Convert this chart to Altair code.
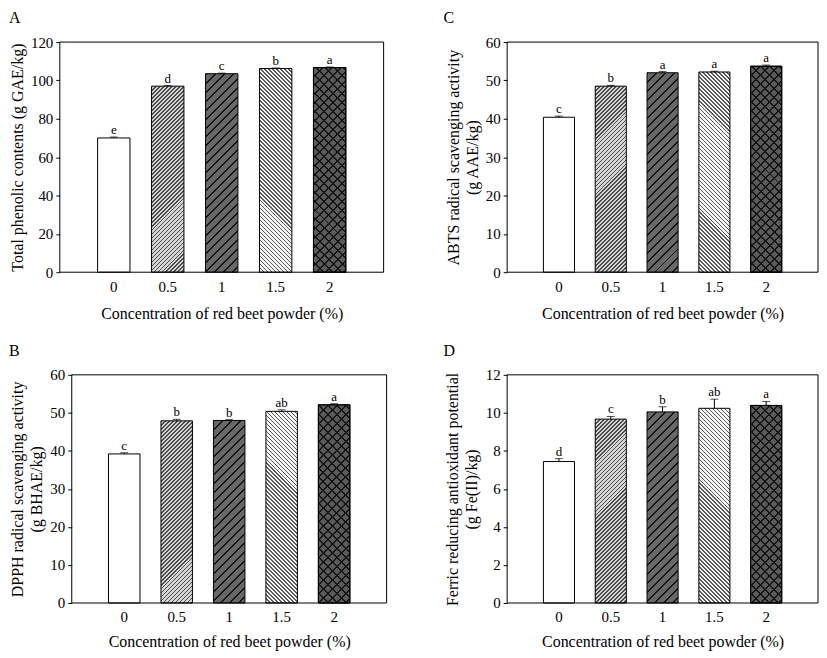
import altair as alt
import pandas as pd

conc = ["0", "0.5", "1", "1.5", "2"]

tpc = [70.0, 97.0, 103.5, 106.2, 106.7]
tpc_err = [0.5, 0.3, 0.3, 0.3, 0.3]
tpc_sig = ["e", "d", "c", "b", "a"]

dpph = [39.2, 47.9, 48.0, 50.4, 52.1]
dpph_err = [0.3, 0.4, 0.2, 0.4, 0.3]
dpph_sig = ["c", "b", "b", "ab", "a"]

abts = [40.4, 48.5, 52.0, 52.2, 53.7]
abts_err = [0.3, 0.2, 0.3, 0.2, 0.3]
abts_sig = ["c", "b", "a", "a", "a"]

frap = [7.44, 9.67, 10.05, 10.24, 10.39]
frap_err = [0.15, 0.14, 0.27, 0.48, 0.21]
frap_sig = ["d", "c", "b", "ab", "a"]

FONT = "Liberation Serif"
X_TITLE = "Concentration of red beet powder (%)"


def hatch(w, h, spacing, direction, line, bg, frac):
    n = int((w + h) / spacing) + 1
    L = n * spacing
    a = w * L / (w * w + h * h)
    b = h * L / (w * w + h * h)
    stops = []
    for k in range(n):
        t0 = round(k / n, 6)
        t1 = round((k + frac) / n, 6)
        t2 = round((k + 1) / n, 6)
        stops += [{"offset": t0, "color": line}, {"offset": t1, "color": line},
                  {"offset": t1, "color": bg}, {"offset": t2, "color": bg}]
    if direction == "/":
        x1, y1, x2, y2 = 0, 0, a, b
    else:
        x1, y1, x2, y2 = 0, 1, a, 1 - b
    return {"gradient": "linear", "x1": x1, "y1": y1, "x2": x2, "y2": y2, "stops": stops}


def panel(vals, errs, sigs, ymax, ystep, ytitle, letter, letter_dx, W, H, title_pad,
          shift=0, xtitle_pad=11):
    df = pd.DataFrame({"conc": conc, "val": vals, "err": errs, "sig": sigs})
    df["top"] = df["val"] + df["err"]
    VW = W + shift
    xs = alt.Scale(domain=conc, paddingInner=0.4, paddingOuter=0.7, range=[shift, VW])
    xaxis = alt.Axis(title=X_TITLE, labelAngle=0, ticks=False, tickSize=0, domain=False,
                     labelPadding=7, titlePadding=xtitle_pad)
    ys = alt.Scale(domain=[0, ymax], nice=False, zero=True)
    yaxis = alt.Axis(title=ytitle, values=list(range(0, ymax + 1, ystep)), grid=False,
                     domain=False, tickSize=4, tickColor="black", labelPadding=3,
                     titlePadding=title_pad, titleLineHeight=19, offset=-shift)

    def X():
        return alt.X("conc:N", scale=xs, axis=xaxis)

    def Y(f):
        return alt.Y(f + ":Q", scale=ys, axis=yaxis)

    bw = W / 6 * 0.6
    layers = []
    for i, c in enumerate(conc):
        h = vals[i] / ymax * H
        base = alt.Chart(df).transform_filter(alt.datum.conc == c)
        if i == 0:
            fills = ["white"]
        elif i == 1:
            fills = [hatch(bw, h, 4, "/", "#4a4a4a", "#d6d6d6", 0.45)]
        elif i == 2:
            fills = [hatch(bw, h, 9, "/", "#111111", "#686868", 0.22)]
        elif i == 3:
            fills = [hatch(bw, h, 4, "\\", "#5a5a5a", "#f6f6f6", 0.4)]
        else:
            fills = [hatch(bw, h, 9, "/", "#151515", "#5a5a5a", 0.22),
                     hatch(bw, h, 9, "\\", "#151515", "rgba(0,0,0,0)", 0.22)]
        for f in fills:
            layers.append(base.mark_bar(fill=f, stroke="black", strokeWidth=1)
                          .encode(x=X(), y=Y("val")))
    base = alt.Chart(df)
    layers.append(base.mark_rule(color="black", strokeWidth=1)
                  .encode(x=X(), y=Y("val"), y2=alt.Y2("top")))
    layers.append(base.mark_tick(color="black", size=8, thickness=1)
                  .encode(x=X(), y=Y("top")))
    layers.append(base.mark_text(baseline="alphabetic", dy=-3, fontSize=13, font=FONT, color="black")
                  .encode(x=X(), y=Y("top"), text="sig:N"))
    lab = pd.DataFrame({"letter": [letter]})
    # plot frame
    layers.append(alt.Chart(lab).mark_rect(fill="transparent", stroke="black", strokeWidth=1)
                  .encode(x=alt.value(shift), x2=alt.value(VW), y=alt.value(0), y2=alt.value(H)))
    # panel letter
    layers.append(alt.Chart(lab).mark_text(align="left", baseline="alphabetic", fontSize=16,
                                           font=FONT, color="black")
                  .encode(x=alt.value(letter_dx), y=alt.value(-19), text="letter:N"))
    return alt.layer(*layers).properties(width=VW, height=H)


pA = panel(tpc, tpc_err, tpc_sig, 120, 20, "Total phenolic contents (g GAE/kg)", "A", -51, 325, 231, 5)
pB = panel(dpph, dpph_err, dpph_sig, 60, 10, ["DPPH radical scavenging activity", "(g BHAE/kg)"],
           "B", -51, 316, 229, 5, shift=12, xtitle_pad=9)
pC = panel(abts, abts_err, abts_sig, 60, 10, ["ABTS radical scavenging activity", "(g AAE/kg)"],
           "C", -64, 312, 231, 5)
pD = panel(frap, frap_err, frap_sig, 12, 2, ["Ferric reducing antioxidant potential", "(g Fe(II)/kg)"],
           "D", -64, 312, 229, 6, xtitle_pad=9)

chart = alt.concat(
    pA, pC, pB, pD, columns=2, spacing={"row": 20, "column": 55},
).properties(padding=0).configure_view(
    stroke="transparent"
).configure_axis(
    labelFont=FONT, titleFont=FONT, labelFontSize=15, titleFontSize=16,
    labelColor="black", titleColor="black", titleFontWeight="normal",
)

chart.save("out.html", embed_options={"renderer": "svg", "actions": False})
